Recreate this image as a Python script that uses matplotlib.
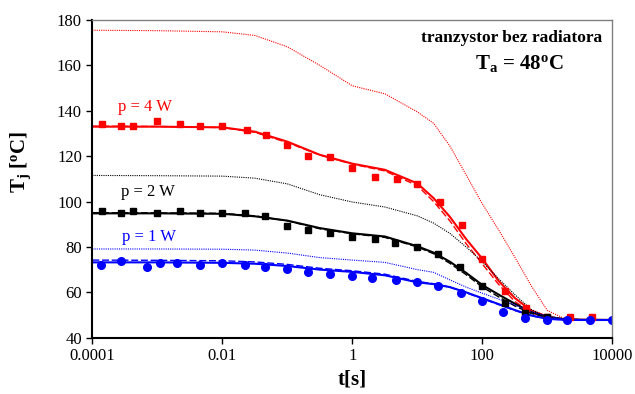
import matplotlib
matplotlib.use("Agg")
import matplotlib.pyplot as plt
import numpy as np

plt.rcParams['font.family'] = ['Liberation Serif', 'DejaVu Serif']
plt.rcParams['mathtext.fontset'] = 'custom'
plt.rcParams['mathtext.rm'] = 'Liberation Serif'
plt.rcParams['mathtext.bf'] = 'Liberation Serif:bold'
plt.rcParams['mathtext.it'] = 'Liberation Serif:italic'

# ---- measured points ----
t_red = [1.4e-4, 2.8e-4, 4.2e-4, 1e-3, 2.2e-3, 4.6e-3, 0.01, 0.024, 0.047, 0.1, 0.21, 0.46,
         1.0, 2.2, 4.8, 10, 22, 48, 100, 220, 470, 1000, 2200, 4800]
T_red = [134.2, 133.3, 133.3, 135.5, 134.2, 133.3, 133.3, 131.5, 129.3, 124.9, 120.1, 119.5,
         114.8, 111.0, 110.1, 107.6, 100.0, 89.7, 74.7, 60.6, 53.0, 49.3, 49.3, 49.3]

t_black = [1.4e-4, 2.8e-4, 4.2e-4, 1e-3, 2.2e-3, 4.6e-3, 0.01, 0.022, 0.046, 0.1, 0.21, 0.46,
           1.0, 2.2, 4.6, 10, 21, 46, 100, 220, 460, 1000]
T_black = [95.7, 94.8, 95.7, 94.8, 95.7, 94.8, 94.8, 94.8, 93.5, 89.1, 87.4, 86.3,
           84.4, 83.5, 81.6, 79.9, 77.0, 71.1, 62.8, 55.2, 50.8, 49.0]

t_blue = [1.35e-4, 2.75e-4, 6.9e-4, 1.1e-3, 2.0e-3, 4.6e-3, 0.01, 0.022, 0.046, 0.098, 0.21, 0.46,
          1.0, 2.0, 4.7, 10, 21, 47, 100, 210, 460, 1000, 2000, 4500, 9800]
T_blue = [71.9, 73.7, 71.1, 73.0, 73.0, 71.9, 72.8, 71.9, 71.1, 70.2, 69.1, 68.2,
          67.2, 66.5, 65.5, 64.4, 62.8, 59.9, 56.2, 51.5, 48.6, 47.8, 47.8, 47.8, 47.8]

# ---- curves ----
t_curve = [1e-4, 1e-3, 1e-2, 0.0316, 0.1, 0.316, 1, 3.16, 10, 17.8, 31.6, 56.2,
           100, 178, 316, 562, 1000, 1778, 3162, 10000]
red_dotted = [175.5, 175.3, 174.8, 173.2, 168.2, 160.0, 151.0, 147.5, 139.5, 134.5, 124.5, 111.8,
              99.0, 87.5, 75.5, 63.0, 52.0, 48.6, 48.0, 47.8]
red_solid = [133.0, 133.0, 132.7, 130.8, 126.4, 120.6, 116.7, 114.0, 108.0, 101.5, 93.3, 83.5,
             74.8, 65.0, 57.5, 52.0, 49.3, 48.1, 47.9, 47.8]
red_dashed = [133.2, 133.1, 132.6, 130.5, 126.0, 120.5, 116.5, 113.5, 107.0, 100.0, 91.5, 81.5,
              72.5, 63.5, 56.0, 51.0, 48.8, 48.0, 47.9, 47.8]
black_dotted = [111.5, 111.4, 111.2, 110.3, 107.8, 103.0, 99.8, 97.6, 93.7, 90.5, 86.0, 80.0,
                73.5, 66.0, 59.0, 52.5, 49.0, 48.1, 47.9, 47.8]
black_solid = [94.8, 94.8, 94.6, 93.5, 91.6, 88.3, 86.0, 84.6, 80.3, 77.5, 73.5, 68.6,
               63.2, 59.0, 55.0, 51.3, 49.2, 48.2, 47.9, 47.8]
black_dashed = [95.1, 95.0, 94.8, 93.7, 91.5, 88.0, 85.8, 84.2, 80.0, 77.0, 72.8, 67.8,
                62.3, 58.0, 54.0, 50.7, 48.9, 48.1, 47.9, 47.8]
blue_dotted = [79.1, 79.1, 79.0, 78.6, 77.3, 75.3, 74.2, 73.2, 70.0, 68.8, 65.5, 62.3,
               59.6, 57.0, 54.4, 51.5, 49.5, 48.3, 47.9, 47.8]
blue_solid = [73.2, 73.2, 73.0, 72.6, 71.6, 70.0, 69.0, 67.5, 64.4, 63.6, 62.3, 60.0,
              57.4, 54.8, 52.2, 49.8, 48.3, 47.9, 47.8, 47.8]
blue_dashed = [74.2, 74.1, 73.9, 73.4, 72.3, 70.6, 69.5, 68.0, 64.8, 63.8, 62.3, 59.8,
               57.2, 54.6, 52.0, 49.7, 48.3, 47.9, 47.8, 47.8]

x_ticks = [1e-4, 1e-2, 1, 100, 10000]
x_tick_labels = ['0.0001', '0.01', '1', '100', '10000']
y_ticks = [40, 60, 80, 100, 120, 140, 160, 180]

RED = '#ff0000'
BLACK = '#000000'
BLUE = '#0000ff'

fig = plt.figure(figsize=(6.35, 3.94), dpi=100)
ax = fig.add_axes([0.1454, 0.1429, 0.8189, 0.8063])

# curves
for col, dot, sol, das in [(RED, red_dotted, red_solid, red_dashed),
                           (BLACK, black_dotted, black_solid, black_dashed),
                           (BLUE, blue_dotted, blue_solid, blue_dashed)]:
    ax.plot(t_curve, dot, color=col, lw=0.8, ls=(0, (1, 1)))
    ax.plot(t_curve, das, color=col, lw=1.0, ls=(0, (5, 2)))
    ax.plot(t_curve, sol, color=col, lw=1.5)

ax.plot(t_red, T_red, ls='none', marker='s', ms=4.5, color=RED)
ax.plot(t_black, T_black, ls='none', marker='s', ms=4.5, color=BLACK)
ax.plot(t_blue, T_blue, ls='none', marker='o', ms=5.5, color=BLUE)

ax.set_xscale('log')
ax.set_xlim(1e-4, 1e4)
ax.set_ylim(40, 180)
ax.set_xticks(x_ticks)
ax.set_xticklabels(x_tick_labels)
ax.xaxis.set_minor_locator(matplotlib.ticker.NullLocator())
ax.set_yticks(y_ticks)
ax.tick_params(axis='both', labelsize=12, direction='out', length=4, width=1, colors='black')

for s in ['left', 'bottom']:
    ax.spines[s].set_linewidth(1.5)
    ax.spines[s].set_color('black')
for s in ['top', 'right']:
    ax.spines[s].set_linewidth(1.0)
    ax.spines[s].set_color('#808080')

ax.set_xlabel('t[s]', fontsize=15, fontweight='bold', labelpad=4)
ax.set_ylabel(r'$\mathbf{T_j}$ $\mathbf{[^o C]}$', fontsize=15)
ax.yaxis.set_label_coords(-0.114, 0.553)

ax.text(6.5e-4, 141.7, 'p = 4 W', color=RED, fontsize=12, ha='center', va='center')
ax.text(7.2e-4, 104.2, 'p = 2 W', color=BLACK, fontsize=12, ha='center', va='center')
ax.text(7.4e-4, 84.4, 'p = 1 W', color=BLUE, fontsize=12, ha='center', va='center')

ax.text(0.980, 0.943, 'tranzystor bez radiatora', transform=ax.transAxes, fontsize=12.5,
        fontweight='bold', ha='right', va='center')
ax.text(0.8215, 0.862, r'T$_\mathbf{a}$ = 48$^\mathbf{o}$C', transform=ax.transAxes,
        fontsize=15, fontweight='bold', ha='center', va='center')

fig.savefig('out.png', dpi=100)
